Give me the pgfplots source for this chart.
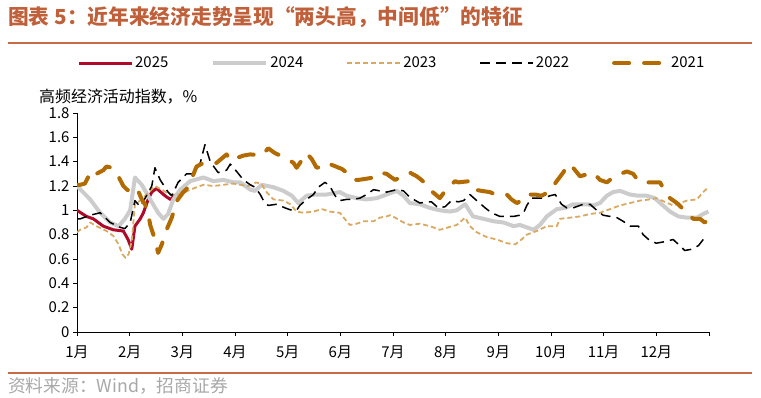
\documentclass[border=0pt]{standalone}
\usepackage{pgfplots}
\pgfplotsset{compat=1.18}
\usepackage{fontspec}
\setmainfont{Noto Sans CJK SC}
\definecolor{c25}{HTML}{AE0A2A}
\definecolor{c24}{HTML}{CCCCCC}
\definecolor{c23}{HTML}{D9A862}
\definecolor{c21}{HTML}{B26B00}
\definecolor{titlec}{HTML}{C0603A}
\definecolor{titleline}{HTML}{C66A45}
\definecolor{srcgray}{HTML}{A8A8A8}
\begin{document}
\begin{tikzpicture}
\path[use as bounding box] (0bp,0bp) rectangle (761bp,-398bp);
\node[anchor=west, text=titlec, font=\bfseries\fontsize{20.8}{24}\selectfont, inner sep=0] at (8bp,-17bp) {图表 5：近年来经济走势呈现“两头高，中间低”的特征};
\draw[titleline, line width=1.5bp] (8bp,-43bp) -- (752bp,-43bp);
\draw[titleline, line width=1.5bp] (8bp,-373bp) -- (752bp,-373bp);
\node[anchor=west, text=srcgray, font=\fontsize{17.8}{19}\selectfont, inner sep=0] at (8bp,-386bp) {资料来源：Wind，招商证券};
\node[anchor=west, font=\fontsize{16}{18}\selectfont, inner sep=0] at (39bp,-97bp) {高频经济活动指数，\%};
\begin{axis}[
  at={(77bp,-332bp)}, anchor=south west, scale only axis,
  width=632bp, height=219bp,
  xmin=0, xmax=12, ymin=0, ymax=1.8,
  axis x line*=bottom, axis y line*=left,
  axis line style={black, line width=0.8bp, -},
  tick style={black, line width=0.8bp},
  tick align=outside, major tick length=4bp,
  xtick={0,1,2,3,4,5,6,7,8,9,10,11,12},
  xticklabels={1月,2月,3月,4月,5月,6月,7月,8月,9月,10月,11月,12月,{}},
  ytick={0,0.2,0.4,0.6,0.8,1,1.2,1.4,1.6,1.8},
  ticklabel style={font=\fontsize{15}{17}\selectfont},
  yticklabel style={/pgf/number format/assume math mode=true,/pgf/number format/fixed,/pgf/number format/precision=1},
  xticklabel style={yshift=-6bp},
  legend columns=5,
  legend cell align=left,
  legend style={at={(axis description cs:0,1.228)}, anchor=west, draw=none, fill=none,
    font=\fontsize{15}{17}\selectfont, inner sep=0pt,
    /tikz/every even column/.append style={column sep=41bp}},
  legend image code/.code={\draw[#1] (0bp,0bp) -- (53bp,0bp);},
  line join=round,
]
\addplot[c25, line width=3bp] coordinates {
(0,1.0) (0.18,0.95) (0.31,0.93) (0.5,0.87) (0.69,0.84) (0.88,0.83) (0.97,0.76) (1.04,0.68) (1.10,0.87) (1.20,0.93) (1.26,0.98) (1.36,1.10) (1.42,1.15) (1.51,1.18) (1.67,1.12) (1.77,1.09) (1.96,1.15) (2.11,1.17)
};
\addlegendentry{2025}
\addplot[c24, line width=4bp] coordinates {
(0,1.2) (0.25,1.09) (0.44,0.98) (0.63,0.9) (0.79,0.87) (0.91,0.93) (1.01,1.0) (1.10,1.27) (1.23,1.21) (1.39,1.09) (1.54,0.98) (1.64,0.93) (1.73,0.97) (1.83,1.09) (1.96,1.17) (2.15,1.24) (2.40,1.27) (2.59,1.24) (2.78,1.25) (2.97,1.23)
(3.10,1.23) (3.29,1.17) (3.38,1.16) (3.51,1.21) (3.73,1.19) (3.92,1.16) (4.08,1.12) (4.20,1.06) (4.36,1.12) (4.52,1.13) (4.74,1.13) (4.99,1.15) (5.12,1.12) (5.31,1.1) (5.5,1.09) (5.69,1.1) (5.88,1.13)
(6.07,1.16) (6.20,1.12) (6.32,1.06) (6.51,1.05) (6.70,1.02) (6.89,1.0) (7.08,0.99) (7.21,1.0) (7.37,1.05) (7.52,0.95) (7.72,0.93) (7.91,0.91) (8.10,0.9) (8.29,0.87) (8.41,0.88) (8.54,0.86) (8.67,0.84) (8.79,0.88) (8.92,0.95)
(9.11,1.01) (9.27,1.02) (9.42,1.05) (9.55,1.05) (9.68,1.05) (9.80,1.04) (9.93,1.06) (10.06,1.12) (10.18,1.15) (10.31,1.16) (10.5,1.13) (10.66,1.12) (10.82,1.12) (10.97,1.1) (11.1,1.05) (11.26,0.99) (11.42,0.95) (11.58,0.94) (11.77,0.94) (11.89,0.97) (11.99,0.99)
};
\addlegendentry{2024}
\addplot[c23, line width=1.8bp, dash pattern=on 5bp off 3bp] coordinates {
(0,0.82) (0.06,0.84) (0.18,0.86) (0.25,0.9) (0.37,0.87) (0.56,0.83) (0.69,0.79) (0.79,0.72) (0.86,0.64) (0.92,0.61) (0.98,0.64) (1.04,0.75) (1.10,1.05) (1.23,1.09) (1.39,1.16) (1.48,1.2) (1.61,1.17) (1.77,1.13) (1.96,1.13) (2.15,1.17) (2.40,1.21) (2.59,1.2) (2.78,1.21) (2.97,1.22)
(3.10,1.21) (3.25,1.2) (3.41,1.23) (3.51,1.21) (3.60,1.15) (3.73,1.09) (3.92,1.08) (4.05,1.05) (4.17,0.99) (4.30,0.98) (4.49,0.99) (4.65,1.01) (4.80,0.99) (4.99,0.98) (5.12,0.91) (5.18,0.88) (5.31,0.89) (5.44,0.91) (5.63,0.91) (5.75,0.94) (5.88,0.95)
(5.94,0.96) (6.04,0.94) (6.20,0.9) (6.32,0.88) (6.51,0.89) (6.70,0.87) (6.89,0.84) (7.05,0.86) (7.21,0.88) (7.37,0.94) (7.46,0.87) (7.59,0.82) (7.78,0.78) (7.97,0.76) (8.16,0.73) (8.32,0.72) (8.44,0.76) (8.54,0.8) (8.73,0.83) (8.92,0.87)
(9.11,0.87) (9.17,0.93) (9.36,0.94) (9.55,0.95) (9.74,0.97) (9.93,0.98) (10.12,1.01) (10.31,1.04) (10.5,1.06) (10.69,1.08) (10.88,1.09) (11.0,1.1) (11.16,1.07) (11.32,1.04) (11.45,1.06) (11.58,1.08) (11.77,1.09) (11.89,1.15) (11.99,1.19)
};
\addlegendentry{2023}
\addplot[black, line width=1.5bp, dash pattern=on 10bp off 6bp] coordinates {
(0,0.93) (0.06,0.93) (0.25,0.96) (0.44,0.98) (0.63,0.9) (0.82,0.86) (0.91,0.85) (1.01,0.9) (1.10,1.08) (1.20,1.03) (1.32,1.12) (1.42,1.2) (1.48,1.35) (1.58,1.25) (1.73,1.15) (1.80,1.12) (1.92,1.23) (2.08,1.3) (2.21,1.3) (2.34,1.39) (2.43,1.54) (2.53,1.4) (2.68,1.31) (2.84,1.33)
(2.91,1.38) (3.03,1.32) (3.16,1.25) (3.29,1.21) (3.38,1.19) (3.48,1.13) (3.54,1.08) (3.63,1.04) (3.79,1.05) (3.95,1.02) (4.08,1.0) (4.17,1.0) (4.23,1.04) (4.36,1.09) (4.49,1.13) (4.58,1.19) (4.71,1.23) (4.80,1.2) (4.90,1.12) (4.99,1.08) (5.12,1.09) (5.25,1.09) (5.37,1.1) (5.5,1.13) (5.63,1.17) (5.75,1.16) (5.88,1.15)
(6.07,1.17) (6.20,1.16) (6.29,1.12) (6.39,1.09) (6.51,1.06) (6.64,1.07) (6.73,1.07) (6.86,1.02) (6.99,1.03) (7.11,1.08) (7.24,1.07) (7.34,1.08) (7.46,1.13) (7.59,1.08) (7.75,1.02) (7.87,0.98) (8.03,0.95) (8.16,0.95) (8.29,0.95) (8.41,0.96) (8.48,0.98) (8.54,1.04) (8.63,1.1) (8.73,1.1) (8.86,1.1) (8.98,1.12) (9.08,1.13)
(9.20,1.05) (9.30,1.02) (9.42,1.02) (9.61,1.05) (9.74,1.05) (9.87,1.0) (9.99,0.96) (10.12,0.95) (10.25,0.94) (10.37,0.91) (10.5,0.87) (10.66,0.87) (10.75,0.8) (10.88,0.75) (11.0,0.73) (11.13,0.74) (11.32,0.76) (11.42,0.72) (11.54,0.67) (11.67,0.68) (11.80,0.71) (11.89,0.76) (11.96,0.8)
};
\addlegendentry{2022}
\addplot[c21, line width=4bp, line cap=round, dash pattern=on 15bp off 15bp] coordinates {
(0,1.21) (0.06,1.21) (0.15,1.22) (0.22,1.28) (0.31,1.25) (0.37,1.3) (0.5,1.33) (0.56,1.36) (0.66,1.35) (0.75,1.31) (0.82,1.25) (0.88,1.2) (0.95,1.17) (1.04,1.15) (1.10,1.12) (1.17,1.15) (1.23,1.09) (1.29,1.05) (1.34,1.0) (1.39,0.88) (1.48,0.76) (1.54,0.65) (1.61,0.72) (1.70,0.84) (1.80,0.94) (1.90,1.08) (2.02,1.15) (2.11,1.19) (2.27,1.36) (2.40,1.39) (2.53,1.38) (2.65,1.39) (2.84,1.46)
(2.91,1.41) (3.03,1.43) (3.16,1.45) (3.29,1.46) (3.51,1.45) (3.63,1.51) (3.76,1.47) (3.86,1.45) (4.0,1.42) (4.11,1.39) (4.17,1.35) (4.36,1.47) (4.46,1.42) (4.55,1.35) (4.65,1.36) (4.74,1.39) (4.80,1.38) (5.03,1.34) (5.12,1.31) (5.25,1.25) (5.34,1.25) (5.5,1.26) (5.63,1.27) (5.75,1.31) (5.88,1.3)
(5.94,1.28) (6.04,1.25) (6.32,1.31) (6.45,1.28) (6.54,1.25) (6.64,1.21) (6.70,1.17) (6.89,1.1) (6.99,1.16) (7.08,1.2) (7.18,1.24) (7.24,1.23) (7.46,1.24) (7.56,1.17) (7.68,1.16) (7.84,1.15) (7.94,1.13) (8.16,1.13) (8.25,1.09) (8.35,1.06) (8.44,1.08) (8.54,1.13) (8.70,1.13) (8.82,1.12) (8.95,1.15) (9.04,1.2)
(9.23,1.31) (9.33,1.38) (9.42,1.35) (9.55,1.28) (9.80,1.31) (9.93,1.25) (10.06,1.23) (10.21,1.28) (10.44,1.32) (10.56,1.3) (10.66,1.24) (10.75,1.23) (11.07,1.23) (11.16,1.16) (11.26,1.1) (11.39,1.06) (11.61,0.97) (11.70,0.93) (11.83,0.93) (11.92,0.9) (11.99,0.93)
};
\addlegendentry{2021}
\end{axis}
\end{tikzpicture}
\end{document}
